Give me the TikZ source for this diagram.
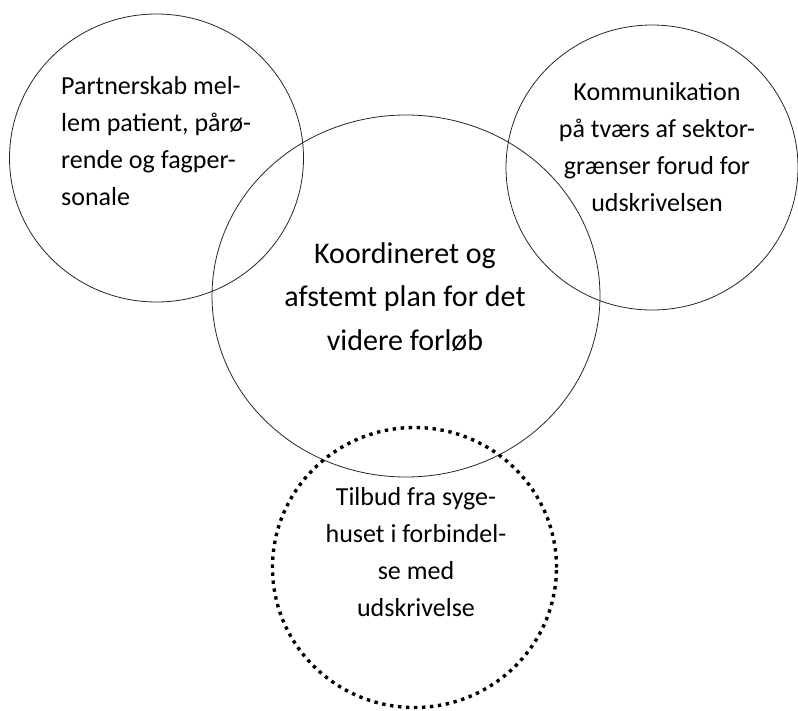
\documentclass[tikz,border=0pt]{standalone}
\usepackage{fontspec}
\setmainfont{Carlito}
\usetikzlibrary{shapes.geometric}

\tikzset{
  ring/.style={draw=black!85, line width=0.8pt},
  dotring/.style={draw=black, line width=3.4pt, dash pattern=on 3.4pt off 4.6pt},
  smalltext/.style={inner sep=0pt, font=\fontsize{26}{37}\selectfont},
  bigtext/.style={inner sep=0pt, align=center, font=\fontsize{30}{43.5}\selectfont},
}

\begin{document}
\begin{tikzpicture}[x=1pt,y=-1pt]
  \useasboundingbox (0,0) rectangle (798,710);

  % centres of the four circles
  \coordinate (cPartner) at (156.5,158);
  \coordinate (cKomm)    at (652,167.5);
  \coordinate (cPlan)    at (406,296);
  \coordinate (cTilbud)  at (414.5,567.5);

  % circles
  \draw[ring] (cPartner) ellipse [x radius=147pt, y radius=144pt];
  \draw[ring] (cKomm)    ellipse [x radius=146pt, y radius=142.5pt];
  \draw[ring] (cPlan)    ellipse [x radius=194pt, y radius=181pt];
  \draw[dotring] (cTilbud) ellipse [x radius=142pt, y radius=140pt];

  % labels
  \node[smalltext, align=left, anchor=north west] (tPartner) at (61,76)
    {Partnerskab mel-\\lem patient, pårø-\\rende og fagper-\\sonale};
  \node[smalltext, align=center, anchor=north] (tKomm) at (657,82)
    {Kommunikation\\på tværs af sektor-\\grænser forud for\\udskrivelsen};
  \node[bigtext, anchor=north] (tPlan) at (405,242)
    {Koordineret og\\afstemt plan for det\\videre forløb};
  \node[smalltext, align=center, anchor=north] (tTilbud) at (416,487)
    {Tilbud fra syge-\\huset i forbindel-\\se med\\udskrivelse};
\end{tikzpicture}
\end{document}
